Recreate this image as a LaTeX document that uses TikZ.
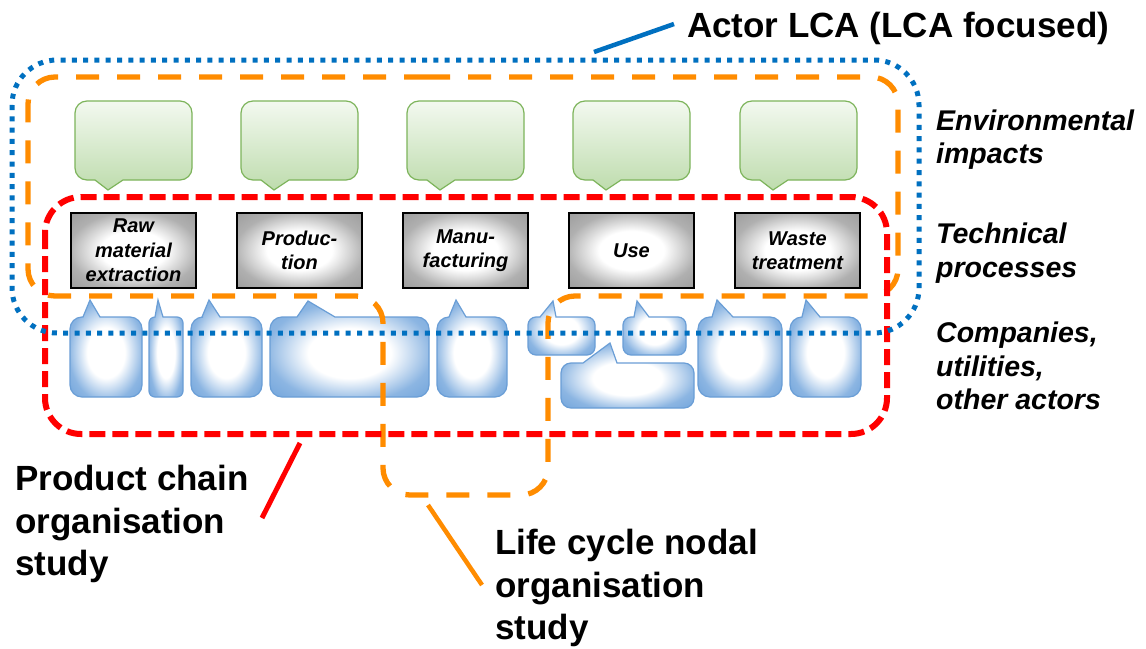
\documentclass[tikz,border=0pt]{standalone}
\usepackage{fontspec}
\setmainfont{Liberation Sans}
\definecolor{lcablue}{HTML}{0070C0}
\definecolor{lcaorange}{HTML}{FF8C00}
\definecolor{lcared}{HTML}{FF0000}
\definecolor{grnedge}{HTML}{7DB45B}
\definecolor{grntop}{HTML}{F3F9F0}
\definecolor{grnbot}{HTML}{BEDCAD}
\definecolor{bluedge}{HTML}{6A9ED6}
\definecolor{bluefill}{HTML}{6FA3DB}
\definecolor{grayedge}{HTML}{9C9C9C}
\pgfdeclareradialshading{blueglow}{\pgfpoint{0bp}{-3bp}}{color(0bp)=(white); color(13bp)=(white); color(26bp)=(bluefill!80); color(36bp)=(bluefill); color(50bp)=(bluefill)}
\pgfdeclareradialshading{grayglow}{\pgfpoint{0bp}{0bp}}{color(0bp)=(white); color(13bp)=(white); color(26bp)=(grayedge!80); color(36bp)=(grayedge); color(50bp)=(grayedge)}
% green callout, pointer at bottom; #1 = left x
\newcommand\greencall[1]{%
  \path[greencallout] (#1+12,101) -- (#1+105,101)
    arc[start angle=-90,end angle=0,radius=12] -- (#1+117,168)
    arc[start angle=0,end angle=90,radius=12] -- (#1+48,180) -- (#1+33,190) -- (#1+20,180) -- (#1+12,180)
    arc[start angle=90,end angle=180,radius=12] -- (#1,113)
    arc[start angle=180,end angle=270,radius=12] -- cycle;}
% blue callout, pointer at top: x1,y1,x2,y2,base left,tip x,tip y,base right,radius
\newcommand\bluecall[9]{%
  \path[bluecallout] (#1+#9,#2) -- (#5,#2) -- (#6,#7) -- (#8,#2) -- (#3-#9,#2)
    arc[start angle=-90,end angle=0,radius=#9] -- (#3,#4-#9)
    arc[start angle=0,end angle=90,radius=#9] -- (#1+#9,#4)
    arc[start angle=90,end angle=180,radius=#9] -- (#1,#2+#9)
    arc[start angle=180,end angle=270,radius=#9] -- cycle;}
\begin{document}
\begin{tikzpicture}[x=1pt,y=-1pt,
  greencallout/.style={draw=grnedge, line width=1.2pt, top color=grntop, bottom color=grnbot},
  bluecallout/.style={draw=bluedge, line width=1.2pt, shading=blueglow},
  procbox/.style={draw=black, line width=1.3pt, minimum width=125pt, minimum height=75pt, inner sep=0pt,
    shading=grayglow, align=center,
    font=\fontsize{20}{24.5}\selectfont\bfseries\itshape},
  bigtext/.style={inner sep=0pt, align=left, font=\fontsize{35}{42.5}\selectfont\bfseries},
  sidetext/.style={anchor=north west, inner sep=0pt, align=left, font=\fontsize{28.5}{33.5}\selectfont\bfseries\itshape},
  redframe/.style={draw=lcared, line width=6pt, dash pattern=on 16pt off 7pt},
  orangeframe/.style={draw=lcaorange, line width=5.3pt, dash pattern=on 23pt off 18pt},
  blueframe/.style={draw=lcablue, line width=5pt, dash pattern=on 5pt off 6.3pt},
  leader/.style={line width=4.5pt}]
\useasboundingbox (0,0) rectangle (1146,648);
\fill[white] (0,0) rectangle (1146,648);

% environmental impacts callouts
\greencall{75}
\greencall{241}
\greencall{407}
\greencall{573}
\greencall{740}

% technical processes
\node[procbox] (p1) at (133.5,250.5) {Raw\\material\\extraction};
\node[procbox] (p2) at (299.5,250.5) {Produc-\\tion};
\node[procbox] (p3) at (465.5,250.5) {Manu-\\facturing};
\node[procbox] (p4) at (631.5,250.5) {Use};
\node[procbox] (p5) at (797.5,250.5) {Waste\\treatment};

% actors
\bluecall{70}{317}{142}{397}{83}{90}{300}{100}{12}
\bluecall{149}{317}{183}{397}{155}{158}{300}{163}{6}
\bluecall{191}{317}{262}{397}{202}{209}{300}{220}{12}
\bluecall{270}{317}{429}{397}{297}{308}{301}{335}{12}
\bluecall{437}{317}{507}{397}{449}{456}{300}{466}{12}
\bluecall{528}{317}{595}{355}{540}{553}{301}{556}{8}
\bluecall{623}{317}{686}{355}{634}{637}{301}{649}{8}
\bluecall{561}{363}{694}{408}{583}{610}{343}{617}{10}
\bluecall{698}{317}{782}{397}{712}{717}{300}{733}{12}
\bluecall{790}{317}{861}{397}{802}{806}{300}{820}{12}

% frames
\draw[orangeframe, rounded corners=27pt]
  (400,77) -- (898,77) -- (898,296) -- (548,296) -- (548,495) -- (383,495) -- (383,296) -- (28,296) -- (28,77) -- cycle;
\draw[redframe, rounded corners=36pt] (45,197) rectangle (887,434);
\draw[blueframe, rounded corners=45pt] (12,60) rectangle (919,333);

% labels
\node[bigtext, anchor=base west] (actor) at (687,37) {Actor LCA (LCA focused)};
\node[bigtext, anchor=north west] (pcos) at (15,465) {Product chain\\organisation\\study};
\node[bigtext, anchor=north west] (lcnos) at (495,529) {Life cycle nodal\\organisation\\study};
\node[sidetext] (env) at (936,109.6) {Environmental\\impacts};
\node[sidetext] (tech) at (936,223) {Technical\\processes};
\node[sidetext] (comp) at (936,322) {Companies,\\utilities,\\other actors};

% leader lines
\coordinate (blueA) at (594,52);
\coordinate (blueB) at (674,24);
\coordinate (redA) at (300,443);
\coordinate (redB) at (262,518);
\coordinate (orA) at (428,505);
\coordinate (orB) at (482,585);
\draw[leader, lcablue] (blueA) -- (blueB);
\draw[leader, lcared, line width=5pt] (redA) -- (redB);
\draw[leader, lcaorange] (orA) -- (orB);
\end{tikzpicture}
\end{document}
